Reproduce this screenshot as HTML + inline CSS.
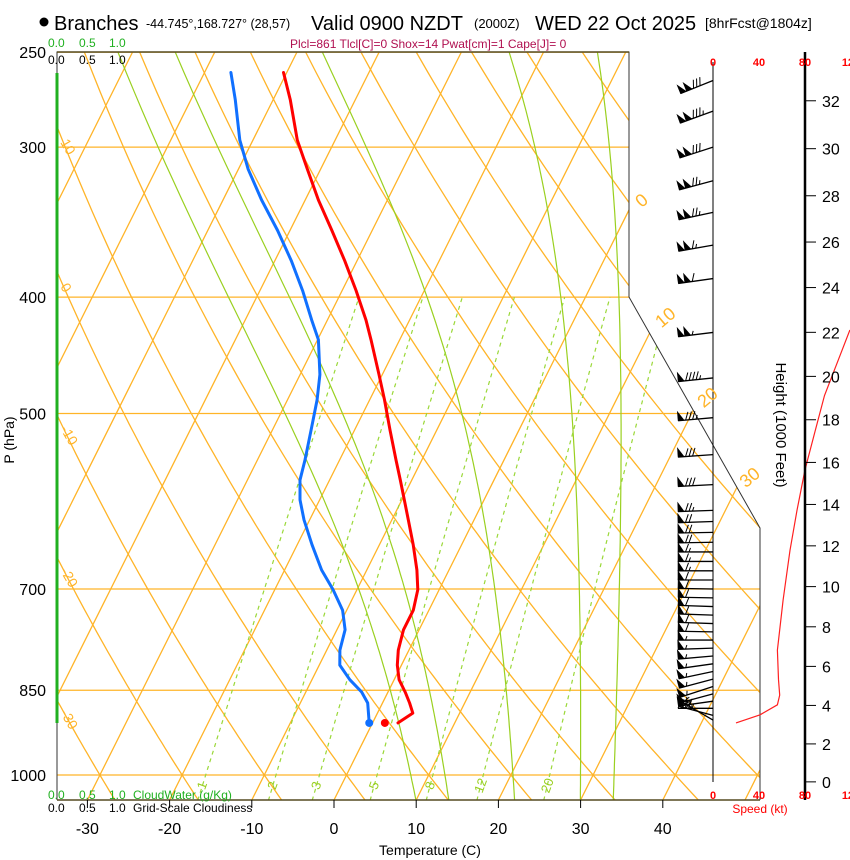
<!DOCTYPE html>
<html><head><meta charset="utf-8"><title>Skew-T Branches</title>
<style>
html,body{margin:0;padding:0;background:#fff;}
svg{display:block;font-family:"Liberation Sans",Arial,sans-serif;}
</style></head>
<body>
<svg id="chart" width="850" height="860" viewBox="0 0 850 860" xmlns="http://www.w3.org/2000/svg">
<defs>
<clipPath id="plotclip"><polygon points="57,52 629,52 629,297 760,528 760,800 57,800"/></clipPath>
</defs>
<rect x="0" y="0" width="850" height="860" fill="#fff"/>
<g id="title">
<circle cx="44" cy="22" r="4.5" fill="#000"/>
<text x="54" y="30" font-size="20">Branches</text>
<text x="146" y="28" font-size="12.5">-44.745°,168.727° (28,57)</text>
<text x="311" y="30" font-size="20">Valid 0900 NZDT</text>
<text x="474" y="28" font-size="13">(2000Z)</text>
<text x="535" y="30" font-size="20">WED 22 Oct 2025</text>
<text x="705" y="28" font-size="14">[8hrFcst@1804z]</text>
<text x="290" y="48" font-size="12" fill="#b01050">Plcl=861 Tlcl[C]=0 Shox=14 Pwat[cm]=1 Cape[J]= 0</text>
</g>
<g id="grid" clip-path="url(#plotclip)"></g>
<g id="frame">
<polyline points="57,800 57,52 629,52 629,297 760,528 760,800" fill="none" stroke="#333" stroke-width="1"/>
<line x1="57" y1="52" x2="629" y2="52" stroke="#554a20" stroke-width="1.5"/>
<line x1="57" y1="800" x2="760" y2="800" stroke="#554a20" stroke-width="1.5"/>
<line x1="57" y1="73" x2="57" y2="723" stroke="#20b020" stroke-width="3"/>
</g>
<g id="profiles"></g>
<g id="axes">
<text x="48" y="47" font-size="12" fill="#20b020">0.0</text>
<text x="79" y="47" font-size="12" fill="#20b020">0.5</text>
<text x="109" y="47" font-size="12" fill="#20b020">1.0</text>
<text x="48" y="64" font-size="12" fill="#000">0.0</text>
<text x="79" y="64" font-size="12" fill="#000">0.5</text>
<text x="109" y="64" font-size="12" fill="#000">1.0</text>
<text x="48" y="799" font-size="12" fill="#20b020">0.0</text>
<text x="79" y="799" font-size="12" fill="#20b020">0.5</text>
<text x="109" y="799" font-size="12" fill="#20b020">1.0</text>
<text x="133" y="799" font-size="12" fill="#20b020">CloudWater (g/Kg)</text>
<text x="48" y="812" font-size="12" fill="#000">0.0</text>
<text x="79" y="812" font-size="12" fill="#000">0.5</text>
<text x="109" y="812" font-size="12" fill="#000">1.0</text>
<text x="133" y="812" font-size="12" fill="#000">Grid-Scale Cloudiness</text>
<text x="430" y="855" font-size="14" text-anchor="middle">Temperature (C)</text>
<text transform="translate(14,440) rotate(-90)" font-size="14" text-anchor="middle">P (hPa)</text>
<text transform="translate(776,425) rotate(90)" font-size="15" text-anchor="middle">Height (1000 Feet)</text>
<text x="760" y="813" font-size="12" fill="#ff0000" text-anchor="middle">Speed (kt)</text>
<line x1="805" y1="52" x2="805" y2="800" stroke="#000" stroke-width="2.5"/>
<line x1="713" y1="62" x2="713" y2="782" stroke="#000" stroke-width="1"/>
</g>
<script>
// ---- data ----
const pLevels = [250, 300, 400, 500, 700, 850, 1000];
const tempTicks = [-30, -20, -10, 0, 10, 20, 30, 40];
const isoLabels = [0, 10, 20, 30];
const thetaLabels = [10, 0, -10, -20, -30];
const mixRatios = [1, 2, 3, 5, 8, 12, 20];
const heightTicks = [0, 2, 4, 6, 8, 10, 12, 14, 16, 18, 20, 22, 24, 26, 28, 30, 32];
const speedTicks = [0, 40, 80, 120];
const tempP = [260,274,296,313,332,352,373,395,418,434,464,487,516,547,568,590,613,643,675,701,729,757,787,810,833,853,871,888,905];
const tempT = [-50.4,-47.9,-44.6,-41.6,-38.4,-34.9,-31.5,-28.3,-25.3,-23.5,-20.4,-18.2,-15.7,-13.1,-11.4,-9.7,-8.0,-5.9,-3.9,-2.6,-1.9,-1.9,-1.3,-0.5,0.6,2.1,3.3,4.3,3.1];
const dewP = [260,274,296,313,332,352,373,395,418,434,464,487,516,547,568,590,613,643,675,701,729,757,787,810,833,853,871,905];
const dewT = [-56.8,-54.6,-51.6,-48.8,-45.3,-41.5,-38.0,-34.8,-31.9,-29.9,-27.6,-26.4,-25.3,-24.2,-23.6,-22.4,-20.7,-18.2,-15.5,-12.9,-10.5,-9.0,-8.4,-7.5,-5.4,-3.2,-1.8,-0.4];
const sfcP = 905, sfcT = 1.5, sfcTd = -0.4;
const speedP = [905,891,874,858,833,787,715,650,602,557,516,483,451,426];
const speedKt = [20,41,56,58,57,56,61,67,73,80,89,97,109,119];
const barbP = [264,280,300,320,340,362,386,428,467,504,541,573,602,615,628,640,652,664,676,688,700,712,724,736,748,760,772,784,796,808,820,832,844,856,868,880,892,900];
const barbDir = [248,250,252,255,258,260,262,263,264,265,266,267,268,268,269,269,270,270,270,270,271,271,272,272,272,271,270,268,265,262,258,255,252,255,262,270,285,300];
const barbKt = [130,135,130,125,125,115,110,105,95,85,80,78,75,72,70,68,66,64,63,62,61,60,60,59,58,58,57,57,57,57,57,56,56,55,52,45,35,22];
const moistStart = [10, 14, 22, 30, 34];

// ---- scales ----
const NS = "http://www.w3.org/2000/svg";
function yP(p){ return 775 - 521.5*Math.log(1000/p); }
function xT(t, y){ return 334 + 8.22*t + 0.5*(800 - y); }
function mk(tag, attrs, parent){ const e = document.createElementNS(NS, tag); for (const k in attrs) e.setAttribute(k, attrs[k]); parent.appendChild(e); return e; }
const grid = document.getElementById('grid');
const axes = document.getElementById('axes');
const prof = document.getElementById('profiles');
const ORANGE = "#ffb428";

// isobars
pLevels.forEach(p => {
  const y = yP(p);
  const l = mk('line', {x1:57, y1:y, x2:800, y2:y, stroke:ORANGE, 'stroke-width':1.3}, grid);
  
  
  const t = mk('text', {x:46, y:y+6, 'font-size':16, 'text-anchor':'end'}, axes);
  t.textContent = p;
  
  
});
// isotherms
for (let T = -110; T <= 50; T += 10) {
  const l = mk('line', {x1:xT(T,800), y1:800, x2:xT(T,52), y2:52, stroke:ORANGE, 'stroke-width':1.3}, grid);
  
  
}
// dry adiabats
for (let th = -50; th <= 180; th += 10) {
  let pts = [];
  for (let p = 1060; p >= 245; p -= 10) {
    const T = (th + 273.15)*Math.pow(p/1000, 0.2857) - 273.15;
    const y = yP(p); pts.push(xT(T,y).toFixed(1) + ',' + y.toFixed(1));
  }
  const l = mk('polyline', {points:pts.join(' '), fill:'none', stroke:ORANGE, 'stroke-width':1.3}, grid);
  
  
}
// moist adiabats
function es(tc){ return 6.112*Math.exp(17.67*tc/(tc+243.5)); }
moistStart.forEach(t0 => {
  let T = t0 + 273.15, pts = [];
  for (let p = 1050; p >= 245; p -= 2) {
    const y = yP(p);
    if (p % 10 === 0) pts.push(xT(T-273.15, y).toFixed(1) + ',' + y.toFixed(1));
    const e = es(T-273.15), rs = 0.622*e/(p-e);
    const dTdp = (287*T + 2.5e6*rs)/(1005 + 2.5e6*2.5e6*rs*0.622/(287*T*T))/p;
    T -= dTdp*2;
  }
  const l = mk('polyline', {points:pts.join(' '), fill:'none', stroke:'#9ad020', 'stroke-width':1.2}, grid);
  
  
});
// mixing ratio lines
function tdFromW(w, p){ const e = w*p/(622+w); const a = Math.log(e/6.112); return 243.5*a/(17.67-a); }
mixRatios.forEach(w => {
  let pts = [];
  for (let p = 1050; p >= 400; p -= 10) { const y = yP(p); pts.push(xT(tdFromW(w,p),y).toFixed(1) + ',' + y.toFixed(1)); }
  const l = mk('polyline', {points:pts.join(' '), fill:'none', stroke:'#9ad838', 'stroke-width':1.2, 'stroke-dasharray':'4,4'}, grid);
  
  
  const y = 787, x = xT(tdFromW(w, 1035), y) + 3;
  const t = mk('text', {x:0, y:0, 'font-size':13, fill:'#9ad020', transform:'translate('+x+','+y+') rotate(-70)', 'text-anchor':'middle'}, axes);
  t.textContent = w;
  
  
});
// isotherm labels on right
isoLabels.forEach(T => {
  let y = T === 0 ? 205 : 297 + (T/10)*80 + (T>0 ? -55 : 0);
  const x = xT(T, y) + 14;
  const t = mk('text', {x:0, y:0, 'font-size':18, fill:ORANGE, transform:'translate('+x+','+y+') rotate(-40)', 'text-anchor':'middle'}, axes);
  t.textContent = T;
  
  
});
// theta labels on left
thetaLabels.forEach(th => {
  let best = 250, bd = 1e9;
  for (let p = 250; p <= 1050; p += 1) { const T = (th+273.15)*Math.pow(p/1000,0.2857)-273.15; const d = Math.abs(xT(T,yP(p)) - 62); if (d < bd) { bd = d; best = p; } }
  const y = yP(best);
  const t = mk('text', {x:0, y:0, 'font-size':14, fill:ORANGE, transform:'translate(60,'+(y+4)+') rotate(60)'}, axes);
  t.textContent = th;
  
  
});
// temperature ticks
tempTicks.forEach(T => {
  const x = xT(T, 800);
  mk('line', {x1:x, y1:800, x2:x, y2:808, stroke:'#000', 'stroke-width':1}, axes);
  const t = mk('text', {x:x, y:834, 'font-size':16, 'text-anchor':'middle'}, axes);
  t.textContent = T;
  
  
});
// height ticks (standard atmosphere)
heightTicks.forEach(h => {
  const p = 1013.25*Math.pow(1 - 6.8756e-6*h*1000, 5.2559);
  const y = yP(p);
  mk('line', {x1:805, y1:y, x2:816, y2:y, stroke:'#000', 'stroke-width':1}, axes);
  const t = mk('text', {x:822, y:y+6, 'font-size':16}, axes);
  t.textContent = h;
  
  
});
// speed ticks
function xS(s){ return 713 + s*46/40; }
speedTicks.forEach(s => {
  [66, 799].forEach(y => {
    const t = mk('text', {x:xS(s), y:y, 'font-size':11, 'font-weight':'bold', fill:'#ff0000', 'text-anchor':'middle'}, axes);
    t.textContent = s;
    
    
  });
});
// speed curve
{
  const pts = speedP.map((p,i) => xS(speedKt[i]).toFixed(1) + ',' + yP(p).toFixed(1));
  const l = mk('polyline', {points:pts.join(' '), fill:'none', stroke:'#ff2020', 'stroke-width':1.2}, prof);
  
  
}
// profiles
function profile(ps, ts, color, name){
  const pts = ps.map((p,i) => { const y = yP(p); return xT(ts[i], y).toFixed(1) + ',' + y.toFixed(1); });
  const l = mk('polyline', {points:pts.join(' '), fill:'none', stroke:color, 'stroke-width':3, 'stroke-linejoin':'round', 'stroke-linecap':'round'}, prof);
  
  
}
profile(tempP, tempT, '#ff0000', 'temperature-profile');
profile(dewP, dewT, '#1070ff', 'dewpoint-profile');
{
  const y = yP(sfcP);
  const c1 = mk('circle', {cx:xT(sfcT,y), cy:y, r:4, fill:'#ff0000'}, prof);
  
  
  const c2 = mk('circle', {cx:xT(sfcTd,y), cy:y, r:4, fill:'#1070ff'}, prof);
  
  
}
// wind barbs
barbP.forEach((p, i) => {
  const g = mk('g', {}, prof);
  
  
  const bx = 713, by = yP(p), L = 35;
  const d = barbDir[i]*Math.PI/180;
  const ux = Math.sin(d), uy = -Math.cos(d);
  const tx = bx + L*ux, ty = by + L*uy;
  mk('line', {x1:bx, y1:by, x2:tx, y2:ty, stroke:'#000', 'stroke-width':1.3}, g);
  const px = -uy, py = ux;
  let s = Math.round(barbKt[i]/5)*5, pos = 0;
  const step = 3.5;
  while (s >= 50) {
    const ax = tx - ux*pos, ay = ty - uy*pos;
    const cx2 = tx - ux*(pos+6), cy2 = ty - uy*(pos+6);
    mk('polygon', {points: ax+','+ay+' '+(ax+px*9)+','+(ay+py*9)+' '+cx2+','+cy2, fill:'#000', stroke:'#000', 'stroke-width':0.6}, g);
    pos += 6.5; s -= 50;
  }
  if (pos > 0) pos += 1;
  while (s >= 10) {
    const ax = tx - ux*pos, ay = ty - uy*pos;
    mk('line', {x1:ax, y1:ay, x2:ax+px*8-ux*3, y2:ay+py*8-uy*3, stroke:'#000', 'stroke-width':1}, g);
    pos += step; s -= 10;
  }
  if (s >= 5) {
    const ax = tx - ux*pos, ay = ty - uy*pos;
    mk('line', {x1:ax, y1:ay, x2:ax+px*4-ux*1.5, y2:ay+py*4-uy*1.5, stroke:'#000', 'stroke-width':1}, g);
  }
});
</script>
</svg>
</body></html>
